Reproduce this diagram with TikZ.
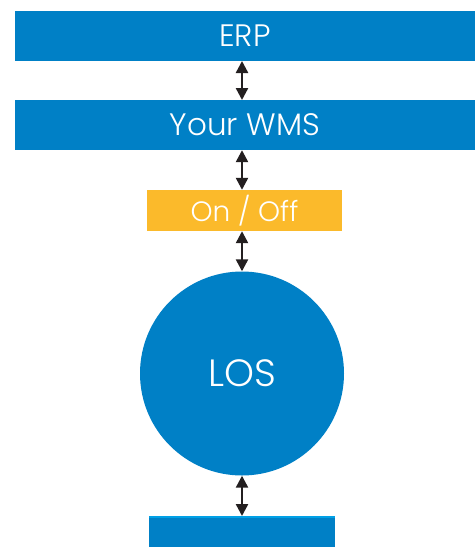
\documentclass[tikz,border=0pt]{standalone}
\usepackage{fontspec}
\setmainfont{Poppins}[UprightFont=* Light]
\usetikzlibrary{arrows.meta}
\definecolor{losblue}{HTML}{0080C6}
\definecolor{lightblue}{HTML}{00A0E6}
\definecolor{onoff}{HTML}{FBBA2B}
\definecolor{arrowdark}{HTML}{231F20}
\begin{document}
\begin{tikzpicture}[x=1pt,y=-1pt,
  bar/.style={fill=losblue, draw=none, text=white, inner sep=0pt},
  link/.style={{Triangle[width=12pt,length=12pt]}-{Triangle[width=12pt,length=12pt]}, line width=2.4pt, draw=arrowdark}]
\useasboundingbox (0,0) rectangle (475,547);
\node[bar, minimum width=460pt, minimum height=50pt, font=\fontsize{31}{32}\selectfont] (erp) at (245,36) {ERP};
\node[bar, minimum width=460pt, minimum height=50pt, font=\fontsize{31}{32}\selectfont] (wms) at (245,125) {Your WMS};
\node[fill=onoff, text=white, inner sep=0pt, minimum width=195pt, minimum height=41pt, font=\fontsize{28}{29}\selectfont] (onoff) at (244.5,210.5) {On / Off};
\node[circle, fill=losblue, text=white, inner sep=0pt, minimum size=204pt, font=\fontsize{38}{40}\selectfont] (los) at (242,373.5) {LOS};
\fill[losblue] (149,516) rectangle (335,547);
\fill[lightblue] (149,516) rectangle (335,518);
\coordinate (bot) at (242,516);
\draw[link] (242,61) -- (242,100);
\draw[link] (wms.south -| 242,0) -- (onoff.north -| 242,0);
\draw[link] (onoff.south -| 242,0) -- (los.north);
\draw[link] (los.south) -- (bot);
\end{tikzpicture}
\end{document}
